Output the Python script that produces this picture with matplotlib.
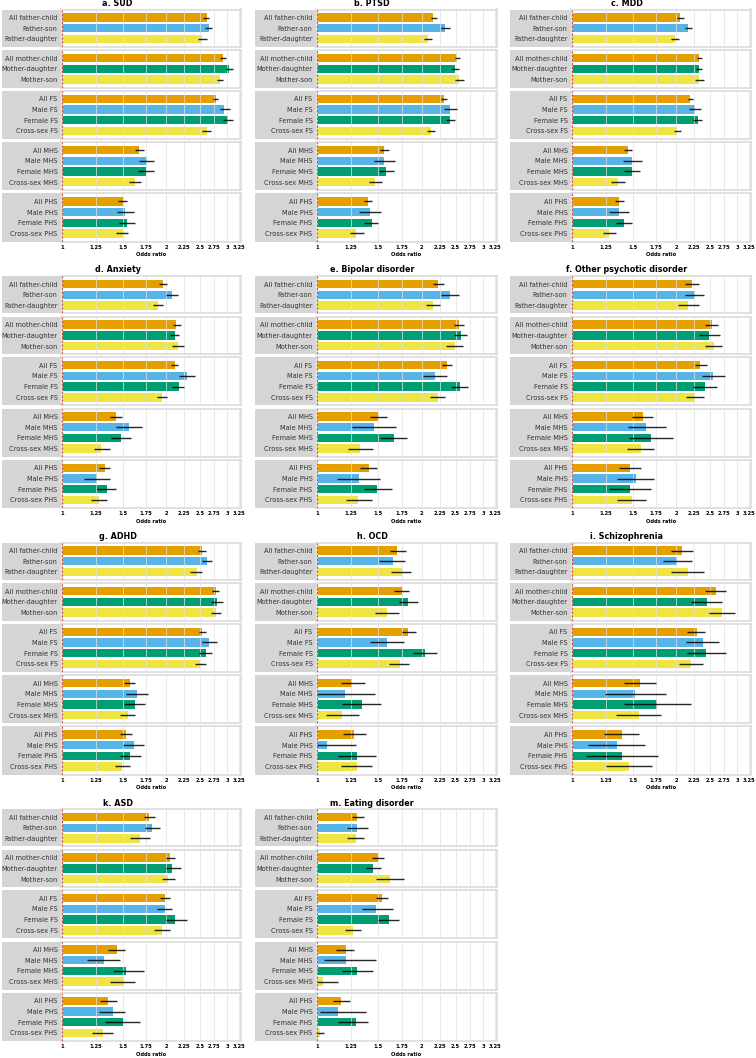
import matplotlib
matplotlib.use("Agg")
import matplotlib.pyplot as plt
from matplotlib.patches import Rectangle
from matplotlib.ticker import NullLocator, FixedLocator, FixedFormatter
import numpy as np

# ---------------- data ----------------
titles = ["a. SUD", "b. PTSD", "c. MDD", "d. Anxiety", "e. Bipolar disorder",
          "f. Other psychotic disorder", "g. ADHD", "h. OCD", "i. Schizophrenia",
          "k. ASD", "m. Eating disorder"]

father_labels = ["All father-child", "Father-son", "Father-daughter"]
mother_labels = ["All mother-child", "Mother-daughter", "Mother-son"]
fs_labels = ["All FS", "Male FS", "Female FS", "Cross-sex FS"]
mhs_labels = ["All MHS", "Male MHS", "Female MHS", "Cross-sex MHS"]
phs_labels = ["All PHS", "Male PHS", "Female PHS", "Cross-sex PHS"]

tick_values = [1, 1.25, 1.5, 1.75, 2, 2.25, 2.5, 2.75, 3, 3.25]
tick_labels = ["1", "1.25", "1.5", "1.75", "2", "2.25", "2.5", "2.75", "3", "3.25"]

# order of rows: father(3), mother(3), FS(4), MHS(4), PHS(4)
sud_or = [2.62, 2.66, 2.54, 2.92, 3.04, 2.86, 2.78, 2.94, 3.01, 2.62, 1.67, 1.76, 1.75, 1.63, 1.50, 1.52, 1.54, 1.50]
sud_lo = [2.56, 2.59, 2.47, 2.86, 2.95, 2.80, 2.73, 2.86, 2.91, 2.54, 1.62, 1.67, 1.66, 1.56, 1.45, 1.44, 1.46, 1.43]
sud_hi = [2.66, 2.72, 2.62, 2.97, 3.12, 2.92, 2.83, 3.06, 3.12, 2.69, 1.72, 1.85, 1.85, 1.69, 1.54, 1.61, 1.63, 1.55]

ptsd_or = [2.16, 2.33, 2.09, 2.53, 2.49, 2.56, 2.32, 2.41, 2.41, 2.12, 1.56, 1.56, 1.575, 1.47, 1.40, 1.42, 1.44, 1.29]
ptsd_lo = [2.12, 2.27, 2.03, 2.49, 2.42, 2.49, 2.27, 2.31, 2.34, 2.07, 1.52, 1.46, 1.51, 1.41, 1.36, 1.32, 1.36, 1.24]
ptsd_hi = [2.21, 2.41, 2.14, 2.58, 2.56, 2.65, 2.37, 2.52, 2.49, 2.18, 1.61, 1.68, 1.66, 1.54, 1.44, 1.53, 1.50, 1.36]

mdd_or = [2.05, 2.17, 1.98, 2.33, 2.33, 2.33, 2.19, 2.27, 2.31, 2.01, 1.45, 1.49, 1.49, 1.36, 1.37, 1.37, 1.41, 1.28]
mdd_lo = [2.01, 2.12, 1.93, 2.29, 2.28, 2.27, 2.16, 2.18, 2.24, 1.97, 1.41, 1.40, 1.41, 1.30, 1.33, 1.28, 1.34, 1.23]
mdd_hi = [2.10, 2.22, 2.04, 2.38, 2.38, 2.40, 2.24, 2.36, 2.38, 2.07, 1.49, 1.59, 1.57, 1.42, 1.41, 1.46, 1.49, 1.34]

anx_or = [1.955, 2.08, 1.89, 2.14, 2.12, 2.16, 2.12, 2.29, 2.18, 1.94, 1.43, 1.56, 1.48, 1.30, 1.33, 1.26, 1.35, 1.28]
anx_lo = [1.90, 2.00, 1.83, 2.09, 2.05, 2.08, 2.07, 2.18, 2.08, 1.88, 1.38, 1.43, 1.385, 1.24, 1.28, 1.155, 1.26, 1.215]
anx_hi = [2.01, 2.17, 1.955, 2.20, 2.18, 2.25, 2.17, 2.42, 2.25, 2.01, 1.49, 1.70, 1.58, 1.38, 1.38, 1.38, 1.43, 1.35]

bip_or = [2.23, 2.41, 2.15, 2.56, 2.60, 2.49, 2.37, 2.18, 2.57, 2.22, 1.50, 1.46, 1.66, 1.33, 1.41, 1.32, 1.49, 1.31]
bip_lo = [2.15, 2.27, 2.05, 2.48, 2.48, 2.35, 2.29, 2.01, 2.43, 2.11, 1.42, 1.26, 1.52, 1.23, 1.33, 1.14, 1.36, 1.21]
bip_hi = [2.32, 2.55, 2.25, 2.65, 2.70, 2.63, 2.45, 2.37, 2.72, 2.33, 1.59, 1.69, 1.81, 1.45, 1.49, 1.52, 1.64, 1.44]

opd_or = [2.22, 2.26, 2.17, 2.53, 2.49, 2.57, 2.35, 2.56, 2.42, 2.26, 1.60, 1.64, 1.69, 1.58, 1.47, 1.53, 1.47, 1.49]
opd_lo = [2.12, 2.12, 2.02, 2.43, 2.33, 2.43, 2.27, 2.37, 2.23, 2.14, 1.49, 1.45, 1.46, 1.44, 1.37, 1.35, 1.28, 1.35]
opd_hi = [2.33, 2.40, 2.33, 2.65, 2.67, 2.72, 2.45, 2.77, 2.63, 2.40, 1.71, 1.87, 1.96, 1.73, 1.58, 1.73, 1.69, 1.64]

adhd_or = [2.54, 2.62, 2.45, 2.78, 2.80, 2.78, 2.54, 2.66, 2.60, 2.50, 1.57, 1.645, 1.62, 1.55, 1.53, 1.61, 1.57, 1.49]
adhd_lo = [2.47, 2.53, 2.35, 2.71, 2.70, 2.70, 2.48, 2.53, 2.48, 2.42, 1.51, 1.53, 1.51, 1.47, 1.47, 1.505, 1.47, 1.42]
adhd_hi = [2.61, 2.71, 2.54, 2.85, 2.91, 2.88, 2.60, 2.80, 2.72, 2.60, 1.63, 1.77, 1.74, 1.63, 1.59, 1.72, 1.69, 1.57]

ocd_or = [1.70, 1.65, 1.75, 1.75, 1.83, 1.59, 1.83, 1.59, 2.04, 1.73, 1.26, 1.20, 1.345, 1.18, 1.28, 1.07, 1.30, 1.30]
ocd_lo = [1.62, 1.51, 1.63, 1.66, 1.72, 1.47, 1.75, 1.42, 1.89, 1.61, 1.17, 1.00, 1.18, 1.06, 1.19, 1.00, 1.15, 1.17]
ocd_hi = [1.80, 1.79, 1.86, 1.84, 1.95, 1.72, 1.92, 1.78, 2.21, 1.84, 1.37, 1.47, 1.53, 1.32, 1.38, 1.29, 1.48, 1.44]

scz_or = [2.075, 2.01, 2.16, 2.61, 2.45, 2.71, 2.29, 2.39, 2.44, 2.21, 1.57, 1.52, 1.76, 1.56, 1.39, 1.345, 1.39, 1.46]
scz_lo = [1.93, 1.83, 1.93, 2.42, 2.20, 2.49, 2.15, 2.14, 2.15, 2.04, 1.41, 1.245, 1.41, 1.34, 1.24, 1.11, 1.10, 1.25]
scz_hi = [2.23, 2.22, 2.41, 2.78, 2.71, 2.95, 2.43, 2.66, 2.78, 2.39, 1.75, 1.865, 2.20, 1.81, 1.56, 1.63, 1.77, 1.70]

asd_or = [1.78, 1.82, 1.68, 2.05, 2.08, 2.03, 1.98, 1.98, 2.12, 1.95, 1.44, 1.32, 1.53, 1.51, 1.36, 1.40, 1.50, 1.31]
asd_lo = [1.72, 1.74, 1.57, 2.00, 2.00, 1.95, 1.92, 1.88, 2.00, 1.85, 1.36, 1.18, 1.40, 1.38, 1.29, 1.28, 1.33, 1.22]
asd_hi = [1.86, 1.92, 1.80, 2.12, 2.20, 2.12, 2.05, 2.08, 2.30, 2.05, 1.52, 1.47, 1.72, 1.62, 1.44, 1.52, 1.68, 1.40]

eat_or = [1.30, 1.30, 1.29, 1.50, 1.45, 1.62, 1.54, 1.48, 1.61, 1.27, 1.21, 1.21, 1.30, 1.04, 1.17, 1.15, 1.29, 1.02]
eat_lo = [1.26, 1.22, 1.22, 1.44, 1.38, 1.48, 1.48, 1.35, 1.50, 1.20, 1.13, 1.05, 1.18, 1.00, 1.11, 1.02, 1.15, 0.99]
eat_hi = [1.36, 1.40, 1.36, 1.56, 1.53, 1.78, 1.60, 1.65, 1.72, 1.34, 1.28, 1.48, 1.45, 1.15, 1.24, 1.38, 1.40, 1.05]

panel_or = [sud_or, ptsd_or, mdd_or, anx_or, bip_or, opd_or, adhd_or, ocd_or, scz_or, asd_or, eat_or]
panel_lo = [sud_lo, ptsd_lo, mdd_lo, anx_lo, bip_lo, opd_lo, adhd_lo, ocd_lo, scz_lo, asd_lo, eat_lo]
panel_hi = [sud_hi, ptsd_hi, mdd_hi, anx_hi, bip_hi, opd_hi, adhd_hi, ocd_hi, scz_hi, asd_hi, eat_hi]

# ---------------- style ----------------
ORANGE, BLUE, GREEN, YELLOW = "#E69F00", "#56B4E9", "#009E73", "#F0E442"
group_labels = [father_labels, mother_labels, fs_labels, mhs_labels, phs_labels]
group_colors = [[ORANGE, BLUE, YELLOW], [ORANGE, GREEN, YELLOW],
                [ORANGE, BLUE, GREEN, YELLOW], [ORANGE, BLUE, GREEN, YELLOW],
                [ORANGE, BLUE, GREEN, YELLOW]]

W, H = 756, 1058
fig = plt.figure(figsize=(W / 100, H / 100), dpi=100)

cols = [(2, 61, 241), (255, 316, 497), (510, 571, 751)]
row_tops = [9.5, 276, 542.5, 809]
panel_h = 232.0
gap = 3.2
pad = 0.25
units = [len(g) + 2 * pad for g in group_labels]
unit_px = (panel_h - gap * (len(units) - 1)) / sum(units)

for p in range(len(titles)):
    r, c = divmod(p, 3)
    gl, al, ar = cols[c]
    top = row_tops[r]
    fig.text((gl + ar) / 2 / W - 4 / W, 1 - (top - 6) / H, titles[p],
             ha="center", va="center", fontsize=5.8, fontweight="bold")
    start = 0
    y_px = top
    for g, (labels, colors) in enumerate(zip(group_labels, group_colors)):
        n = len(labels)
        h_px = units[g] * unit_px
        vals = np.array(panel_or[p][start:start + n])
        lo = np.array(panel_lo[p][start:start + n])
        hi = np.array(panel_hi[p][start:start + n])
        start += n
        fig.patches.append(Rectangle((gl / W, 1 - (y_px + h_px) / H), (al - gl) / W, h_px / H,
                                     transform=fig.transFigure, facecolor="#d5d5d5",
                                     edgecolor="none", zorder=-1))
        ax = fig.add_axes([al / W, 1 - (y_px + h_px) / H, (ar - al) / W, h_px / H])
        ax.set_xscale("log")
        y = np.arange(n)
        ax.barh(y, vals - 1, left=1, height=0.78, color=colors, zorder=1)
        for t in tick_values:
            ax.axvline(t, color="#e2e2e2", lw=0.6, zorder=2, alpha=0.85)
        ax.errorbar(vals, y, xerr=[vals - lo, hi - vals], fmt="none", ecolor="black",
                    elinewidth=1.0, capsize=0, alpha=0.85, zorder=3)
        ax.axvline(1, color="#c8553d", lw=0.8, ls=(0, (2, 1.5)), zorder=4)
        ax.set_xlim(0.993, 3.29)
        ax.set_ylim(n - 1 + 0.5 + pad, -0.5 - pad)
        ax.set_yticks(y)
        ax.set_yticklabels(labels, fontsize=4.8, color="#333333")
        ax.tick_params(axis="y", length=0, pad=2.5)
        ax.xaxis.set_minor_locator(NullLocator())
        ax.xaxis.set_major_locator(FixedLocator(tick_values))
        ax.xaxis.set_major_formatter(FixedFormatter(tick_labels))
        ax.tick_params(axis="x", length=0, pad=2.5, labelsize=3.7)
        for s in ax.spines.values():
            s.set_color("#dcdcdc")
            s.set_linewidth(1.2)
        if g == len(group_labels) - 1:
            for lab in ax.get_xticklabels():
                lab.set_fontweight("bold")
            ax.set_xlabel("Odds ratio", fontsize=3.7, fontweight="bold", labelpad=1.5)
        else:
            ax.tick_params(axis="x", labelbottom=False)
        y_px += h_px + gap

fig.savefig("out.png", dpi=100)
